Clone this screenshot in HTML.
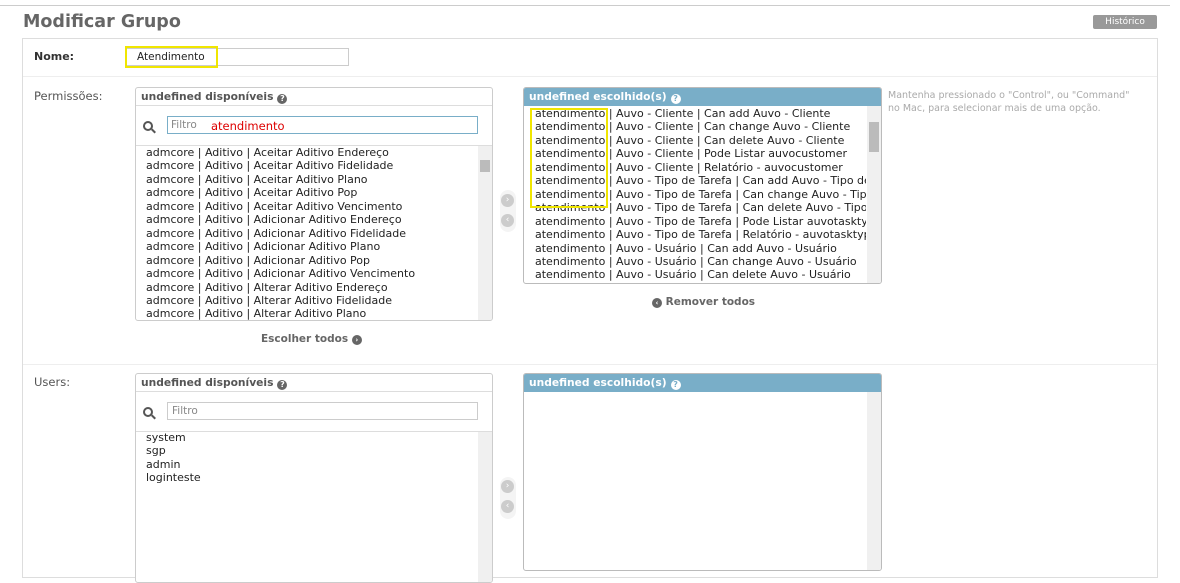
<!DOCTYPE html>
<html><head><meta charset="utf-8">
<style>
*{margin:0;padding:0;box-sizing:border-box}
body{width:1180px;height:573px;background:#fff;position:relative;overflow:hidden;font-family:"DejaVu Sans","Liberation Sans",sans-serif;color:#333}
.a{position:absolute}
.t{font-size:11px;white-space:nowrap;line-height:13.45px;color:#222}
.hdr{font-size:10.7px;font-weight:bold;padding:2px 5px;height:18px;white-space:nowrap}
.box{border:1px solid #ccc;border-radius:3px;background:#fff;overflow:hidden}
.q{display:inline-block;width:10px;height:10px;border-radius:50%;vertical-align:-1px;margin-left:4px;position:relative;text-align:center;font-size:8px;line-height:10px;font-weight:bold}
.sb{position:absolute;right:0;top:0;bottom:0;width:14px;background:#f0f0f0}
.arr{width:13px;height:13px;border-radius:50%;background:#ccc;color:#fff;font-size:9px;text-align:center;line-height:13px}
</style></head><body>
<div class="a" style="left:0;top:5px;width:1170px;height:1px;background:#ccc"></div>
<div class="a" style="left:23px;top:12px;font-size:17.5px;font-weight:bold;color:#666">Modificar Grupo</div>
<div class="a" style="left:1093px;top:15px;width:64px;height:14px;background:#999;color:#fff;font-size:9px;text-align:center;line-height:14px;border-radius:2px">Histórico</div>
<div class="a" style="left:22px;top:38px;width:1136px;height:540px;border:1px solid #ddd"></div>
<div class="a" style="left:23px;top:76px;width:1134px;height:1px;background:#eee"></div>
<div class="a" style="left:23px;top:364px;width:1134px;height:1px;background:#eee"></div>
<div class="a" style="left:34px;top:50px;font-size:11px;font-weight:bold;color:#333">Nome:</div>
<div class="a" style="left:126px;top:48px;width:223px;height:18px;border:1px solid #ccc"></div>
<div class="a" style="left:125px;top:46px;width:93px;height:22px;border:2px solid #f0e600"></div>
<div class="a t" style="left:137px;top:51px;font-size:10.5px">Atendimento</div>

<div class="a" style="left:34px;top:89px;font-size:11.5px;color:#555">Permissões:</div>
<div class="a box" style="left:135px;top:87px;width:358px;height:234px">
 <div class="hdr" style="color:#555;border-bottom:1px solid #ddd">undefined disponíveis<span class="q" style="background:#666;color:#fff">?</span></div>
 <div style="height:40px;border-bottom:1px solid #ddd;position:relative">
  <div class="a" style="left:7px;top:15px;width:10px;height:10px;border:2px solid #555;border-radius:50%"></div>
  <div class="a" style="left:15px;top:24px;width:5px;height:2px;background:#555;transform:rotate(45deg)"></div>
  <div class="a" style="left:31px;top:10px;width:311px;height:18px;border:1px solid #79aec8"></div>
  <div class="a" style="left:35px;top:13px;font-size:10.5px;color:#888">Filtro</div>
  <div class="a" style="left:75px;top:13px;font-size:11.5px;color:#d00">atendimento</div>
 </div>
 <div class="sb" style="top:58px"><div style="position:absolute;top:14px;left:2px;width:10px;height:12px;background:#bbb"></div></div>
 <div class="a t" style="left:10px;top:58px">admcore | Aditivo | Aceitar Aditivo Endereço<br>admcore | Aditivo | Aceitar Aditivo Fidelidade<br>admcore | Aditivo | Aceitar Aditivo Plano<br>admcore | Aditivo | Aceitar Aditivo Pop<br>admcore | Aditivo | Aceitar Aditivo Vencimento<br>admcore | Aditivo | Adicionar Aditivo Endereço<br>admcore | Aditivo | Adicionar Aditivo Fidelidade<br>admcore | Aditivo | Adicionar Aditivo Plano<br>admcore | Aditivo | Adicionar Aditivo Pop<br>admcore | Aditivo | Adicionar Aditivo Vencimento<br>admcore | Aditivo | Alterar Aditivo Endereço<br>admcore | Aditivo | Alterar Aditivo Fidelidade<br>admcore | Aditivo | Alterar Aditivo Plano</div>
</div>
<div class="a" style="left:261px;top:333px;font-size:10.5px;font-weight:bold;color:#666">Escolher todos <span class="arr" style="display:inline-block;width:10px;height:10px;line-height:10px;font-size:7px;background:#666">›</span></div>
<div class="a" style="left:500px;top:190px;width:16px;height:42px;background:#f4f4f4;border-radius:8px"></div>
<div class="a arr" style="left:501px;top:194px">›</div>
<div class="a arr" style="left:501px;top:214px">‹</div>
<div class="a box" style="left:523px;top:87px;width:359px;height:197px;border-color:#bbb">
 <div class="hdr" style="background:#79aec8;color:#fff">undefined escolhido(s)<span class="q" style="background:#fff;color:#79aec8">?</span></div>
 <div class="sb" style="top:18px"><div style="position:absolute;top:16px;left:2px;width:10px;height:30px;background:#bbb"></div></div>
 <div class="a t" style="left:11px;top:19px;width:331px;overflow:hidden">atendimento | Auvo - Cliente | Can add Auvo - Cliente<br>atendimento | Auvo - Cliente | Can change Auvo - Cliente<br>atendimento | Auvo - Cliente | Can delete Auvo - Cliente<br>atendimento | Auvo - Cliente | Pode Listar auvocustomer<br>atendimento | Auvo - Cliente | Relatório - auvocustomer<br>atendimento | Auvo - Tipo de Tarefa | Can add Auvo - Tipo de<br>atendimento | Auvo - Tipo de Tarefa | Can change Auvo - Tipo<br>atendimento | Auvo - Tipo de Tarefa | Can delete Auvo - Tipo<br>atendimento | Auvo - Tipo de Tarefa | Pode Listar auvotasktype<br>atendimento | Auvo - Tipo de Tarefa | Relatório - auvotasktype<br>atendimento | Auvo - Usuário | Can add Auvo - Usuário<br>atendimento | Auvo - Usuário | Can change Auvo - Usuário<br>atendimento | Auvo - Usuário | Can delete Auvo - Usuário</div>
</div>
<div class="a" style="left:530px;top:108px;width:78px;height:100px;border:2px solid #f0e600"></div>
<div class="a" style="left:652px;top:296px;font-size:10.5px;font-weight:bold;color:#666"><span class="arr" style="display:inline-block;width:10px;height:10px;line-height:10px;font-size:7px;background:#666">‹</span> Remover todos</div>
<div class="a" style="left:888px;top:89px;font-size:9.5px;color:#aaa;line-height:13px">Mantenha pressionado o "Control", ou "Command"<br>no Mac, para selecionar mais de uma opção.</div>

<div class="a" style="left:34px;top:375px;font-size:11.5px;color:#555">Users:</div>
<div class="a box" style="left:135px;top:373px;width:358px;height:210px">
 <div class="hdr" style="color:#555;border-bottom:1px solid #ddd">undefined disponíveis<span class="q" style="background:#666;color:#fff">?</span></div>
 <div style="height:40px;border-bottom:1px solid #ddd;position:relative">
  <div class="a" style="left:7px;top:15px;width:10px;height:10px;border:2px solid #555;border-radius:50%"></div>
  <div class="a" style="left:15px;top:24px;width:5px;height:2px;background:#555;transform:rotate(45deg)"></div>
  <div class="a" style="left:31px;top:10px;width:311px;height:18px;border:1px solid #ccc"></div>
  <div class="a" style="left:36px;top:13px;font-size:10.5px;color:#888">Filtro</div>
 </div>
 <div class="sb" style="top:58px"></div>
 <div class="a t" style="left:10px;top:57px">system<br>sgp<br>admin<br>loginteste</div>
</div>
<div class="a" style="left:500px;top:477px;width:16px;height:42px;background:#f4f4f4;border-radius:8px"></div>
<div class="a arr" style="left:501px;top:480px">›</div>
<div class="a arr" style="left:501px;top:500px">‹</div>
<div class="a box" style="left:523px;top:373px;width:359px;height:198px;border-color:#bbb">
 <div class="hdr" style="background:#79aec8;color:#fff">undefined escolhido(s)<span class="q" style="background:#fff;color:#79aec8">?</span></div>
 <div class="sb" style="top:18px"></div>
</div>
</body></html>
